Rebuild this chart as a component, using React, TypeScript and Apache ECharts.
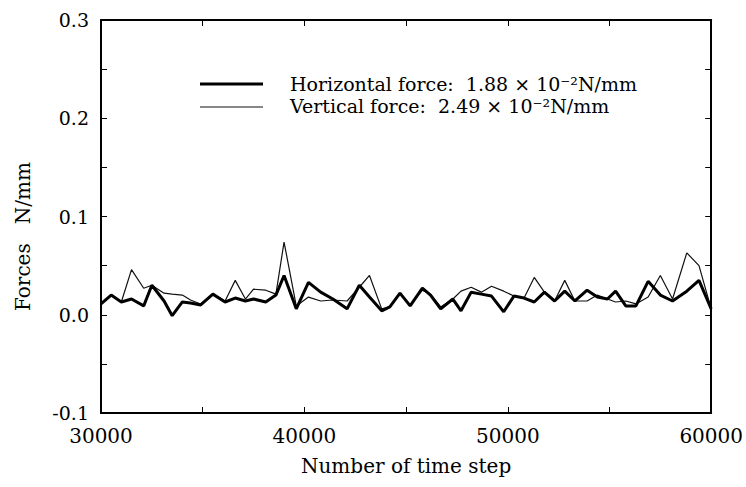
import React, { useEffect, useRef } from "react";
import * as echarts from "echarts";

const steps = [
  30000, 30500, 31000, 31500, 32100, 32500, 33100, 33500, 34000, 34400,
  34900, 35500, 36100, 36600, 37100, 37500, 38100, 38600, 39000, 39600,
  40200, 40800, 41400, 42100, 42700, 43200, 43800, 44200, 44700, 45200,
  45800, 46200, 46700, 47300, 47700, 48200, 48700, 49200, 49800, 50300,
  50800, 51300, 51800, 52300, 52800, 53300, 53900, 54400, 54900, 55300,
  55800, 56300, 56900, 57500, 58100, 58800, 59400, 60000,
];

const horizontalForce = [
  0.011, 0.020, 0.013, 0.016, 0.009, 0.030, 0.014, -0.001, 0.013, 0.012,
  0.010, 0.021, 0.013, 0.017, 0.014, 0.016, 0.013, 0.020, 0.040, 0.006,
  0.033, 0.023, 0.016, 0.006, 0.030, 0.018, 0.004, 0.008, 0.022, 0.009,
  0.027, 0.020, 0.006, 0.016, 0.004, 0.023, 0.021, 0.019, 0.003, 0.019,
  0.017, 0.013, 0.023, 0.014, 0.024, 0.014, 0.025, 0.018, 0.016, 0.024,
  0.009, 0.009, 0.034, 0.020, 0.014, 0.024, 0.035, 0.006,
];

const verticalForce = [
  0.011, 0.020, 0.013, 0.046, 0.027, 0.030, 0.022, 0.021, 0.020, 0.015,
  0.011, 0.021, 0.014, 0.035, 0.016, 0.026, 0.025, 0.021, 0.074, 0.009,
  0.018, 0.014, 0.015, 0.014, 0.028, 0.040, 0.006, 0.008, 0.022, 0.010,
  0.025, 0.021, 0.008, 0.016, 0.024, 0.028, 0.023, 0.029, 0.024, 0.019,
  0.017, 0.038, 0.023, 0.014, 0.035, 0.014, 0.014, 0.020, 0.016, 0.013,
  0.014, 0.011, 0.018, 0.040, 0.016, 0.063, 0.050, 0.006,
];

const legendLabels = [
  "Horizontal force:  1.88 × 10⁻²N/mm",
  "Vertical force:  2.49 × 10⁻²N/mm",
];

const FONT = "DejaVu Serif";

export default function App() {
  const ref = useRef<HTMLDivElement>(null);

  useEffect(() => {
    if (!ref.current) return;
    const chart = echarts.init(ref.current, null, { renderer: "svg" });

    const axisCommon = {
      axisLine: { show: true, onZero: false, lineStyle: { color: "#000", width: 2 } },
      axisTick: { show: true, inside: true, length: 6, lineStyle: { color: "#000", width: 1 } },
      minorTick: { show: true, splitNumber: 2, length: 6, lineStyle: { color: "#000", width: 1 } },
      splitLine: { show: false },
    };

    chart.setOption({
      animation: false,
      backgroundColor: "#fff",
      grid: { left: 101, right: 33, top: 20, bottom: 74 },
      xAxis: [
        {
          type: "value",
          min: 30000,
          max: 60000,
          interval: 10000,
          position: "bottom",
          ...axisCommon,
          axisLabel: {
            color: "#000",
            fontFamily: FONT,
            fontSize: 20,
            margin: 13,
            formatter: (v: number) => String(v),
          },
          name: "Number of time step",
          nameLocation: "middle",
          nameGap: 43,
          nameTextStyle: { color: "#000", fontFamily: FONT, fontSize: 20 },
        },
        {
          type: "value",
          min: 30000,
          max: 60000,
          interval: 10000,
          position: "top",
          ...axisCommon,
          axisLabel: { show: false },
        },
      ],
      yAxis: [
        {
          type: "value",
          min: -0.1,
          max: 0.3,
          interval: 0.1,
          position: "left",
          ...axisCommon,
          axisLabel: {
            color: "#000",
            fontFamily: FONT,
            fontSize: 19,
            margin: 12,
            formatter: (v: number) => v.toFixed(1),
          },
          name: "Forces   N/mm",
          nameLocation: "middle",
          nameGap: 68,
          nameRotate: 90,
          nameTextStyle: {
            color: "#000",
            fontFamily: FONT,
            fontSize: 20,
            padding: [0, 40, 0, 0],
          },
        },
        {
          type: "value",
          min: -0.1,
          max: 0.3,
          interval: 0.1,
          position: "right",
          ...axisCommon,
          axisLabel: { show: false },
        },
      ],
      series: [
        {
          name: "Vertical force",
          type: "line",
          data: steps.map((s, i) => [s, verticalForce[i]]),
          showSymbol: false,
          lineStyle: { color: "#111", width: 1.2 },
          z: 2,
        },
        {
          name: "Horizontal force",
          type: "line",
          data: steps.map((s, i) => [s, horizontalForce[i]]),
          showSymbol: false,
          lineStyle: { color: "#000", width: 3 },
          z: 3,
        },
      ],
      graphic: [
        {
          type: "line",
          shape: { x1: 200, y1: 84, x2: 263, y2: 84 },
          style: { stroke: "#000", lineWidth: 3 },
        },
        {
          type: "line",
          shape: { x1: 200, y1: 107, x2: 263, y2: 107 },
          style: { stroke: "#111", lineWidth: 1.2 },
        },
        {
          type: "text",
          x: 290,
          y: 84,
          style: {
            text: legendLabels[0],
            fill: "#000",
            font: `19px "${FONT}"`,
            verticalAlign: "middle",
          },
        },
        {
          type: "text",
          x: 290,
          y: 106,
          style: {
            text: legendLabels[1],
            fill: "#000",
            font: `19px "${FONT}"`,
            verticalAlign: "middle",
          },
        },
      ],
    });

    return () => chart.dispose();
  }, []);

  return (
    <div
      ref={ref}
      style={{ position: "fixed", left: 0, top: 0, width: 746, height: 487 }}
    />
  );
}
